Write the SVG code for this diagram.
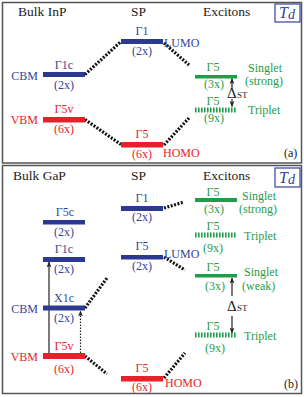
<svg xmlns="http://www.w3.org/2000/svg" width="304" height="397" viewBox="0 0 304 397" font-family="'Liberation Serif', 'Times New Roman', serif">
<defs>
<style>
text{font-family:'Liberation Serif','Times New Roman',serif;font-size:12px}
.h{font-size:13.5px;fill:#222}
.b{fill:#34449a}
.r{fill:#e8222b}
.g{fill:#1f9e4a}
.k{fill:#222}
.c{text-anchor:middle}
.e{text-anchor:end}
.bb{fill:#2b3990}
.rb{fill:#e8202a}
.gb{fill:#1f9e4a}
.frame{fill:none;stroke:#555;stroke-width:1.5}
.td{fill:#fff;stroke:#34449a;stroke-width:1.2}
.tdt{font-style:italic;font-size:16px;fill:#34449a}
.dot{stroke:#111;stroke-width:3.2;stroke-dasharray:2 1.5;fill:none}
.trip{stroke:#1f9e4a;stroke-width:5;stroke-dasharray:1.6 1.4;fill:none}
.ar{stroke:#222;stroke-width:1.2;fill:none}
.ard{stroke:#222;stroke-width:1.2;stroke-dasharray:1.5 1.5;fill:none}
.dl{font-size:15px;fill:#222}
.st{font-size:9px;fill:#222}
</style>
<marker id="ah" viewBox="0 0 10 10" refX="9" refY="5" markerWidth="6" markerHeight="6" orient="auto" markerUnits="userSpaceOnUse">
<path d="M0,1 L10,5 L0,9 L2.5,5 Z" fill="#222"/>
</marker>
</defs>
<rect x="0" y="0" width="304" height="397" fill="#fff"/>

<g id="panel-a">
<rect class="frame" x="2.5" y="2.5" width="299" height="160.5"/>
<text class="h" x="18" y="16">Bulk InP</text>
<text class="h" x="131" y="16">SP</text>
<text class="h" x="203" y="16">Excitons</text>
<g id="td-a"><rect class="td" x="275" y="4" width="25" height="18"/><text class="tdt" x="279" y="18">T<tspan font-size="14" dy="1">d</tspan></text></g>
<text class="k" x="284" y="157">(a)</text>
</g>

<g id="connectors">
<line class="dot" x1="85" y1="74.5" x2="121" y2="41.5"/>
<line class="dot" x1="85" y1="119.5" x2="121" y2="144.5"/>
<line class="dot" x1="164" y1="43" x2="189" y2="65"/>
<line class="dot" x1="164" y1="145" x2="189" y2="118"/>
<line class="dot" x1="85" y1="308" x2="107" y2="278"/>
<line class="dot" x1="85" y1="356" x2="107" y2="374"/>
<line class="dot" x1="164" y1="208" x2="184" y2="202"/>
<line class="dot" x1="164" y1="257" x2="185" y2="270"/>
<line class="dot" x1="164" y1="378" x2="185" y2="353"/>
<line class="ar" x1="49" y1="353" x2="49" y2="262" marker-end="url(#ah)"/>
<line class="ard" x1="80.5" y1="353" x2="80.5" y2="311" marker-end="url(#ah)"/>
<line class="ar" x1="232" y1="88" x2="232" y2="78.5" marker-end="url(#ah)"/>
<line class="ar" x1="232" y1="99" x2="232" y2="106.5" marker-end="url(#ah)"/>
<line class="ar" x1="232" y1="296" x2="232" y2="278" marker-end="url(#ah)"/>
<line class="ar" x1="232" y1="316" x2="232" y2="333" marker-end="url(#ah)"/>
</g>

<g id="a-inp-cbm"><rect class="bb" x="43" y="72" width="42" height="5"/><text class="b c" x="64" y="69">Γ1c</text><text class="b c" x="64" y="89">(2x)</text><text class="b e" x="38" y="80">CBM</text></g>
<g id="a-inp-vbm"><rect class="rb" x="43" y="117" width="42" height="5.5"/><text class="r c" x="64" y="113">Γ5v</text><text class="r c" x="64" y="133">(6x)</text><text class="r e" x="38" y="124">VBM</text></g>
<g id="a-sp-lumo"><rect class="bb" x="121" y="39" width="42" height="5"/><text class="b c" x="142" y="35">Γ1</text><text class="b c" x="142" y="55">(2x)</text><text class="b" x="164" y="47">LUMO</text></g>
<g id="a-sp-homo"><rect class="rb" x="121" y="142" width="42" height="5.5"/><text class="r c" x="142" y="138">Γ5</text><text class="r c" x="142" y="158">(6x)</text><text class="r" x="163" y="157">HOMO</text></g>
<g id="a-singlet"><rect class="gb" x="195" y="75" width="42" height="3.5"/><text class="g c" x="213" y="71">Γ5</text><text class="g c" x="214" y="88">(3x)</text><text class="g" x="248" y="72">Singlet</text><text class="g" x="245" y="85">(strong)</text></g>
<g id="a-triplet"><line class="trip" x1="195" y1="110" x2="237" y2="110"/><text class="g c" x="213" y="105">Γ5</text><text class="g c" x="214" y="122">(9x)</text><text class="g" x="248" y="114">Triplet</text></g>
<g id="a-dst"><text class="dl" x="227" y="98">Δ</text><text class="st" x="237" y="98">ST</text></g>

<g id="panel-b">
<rect class="frame" x="2.5" y="165.5" width="299" height="228"/>
<text class="h" x="13" y="180">Bulk GaP</text>
<text class="h" x="131" y="180">SP</text>
<text class="h" x="203" y="180">Excitons</text>
<g id="td-b"><rect class="td" x="275" y="168" width="25" height="19"/><text class="tdt" x="279" y="182.5">T<tspan font-size="14" dy="1">d</tspan></text></g>
<text class="k" x="284" y="388">(b)</text>
</g>

<g id="b-gap-g5c"><rect class="bb" x="43" y="220" width="42" height="4.5"/><text class="b c" x="65" y="216">Γ5c</text><text class="b c" x="64" y="236">(2x)</text></g>
<g id="b-gap-g1c"><rect class="bb" x="43" y="257" width="42" height="5"/><text class="b c" x="64" y="253">Γ1c</text><text class="b c" x="64" y="273">(2x)</text></g>
<g id="b-gap-x1c"><rect class="bb" x="43" y="305.5" width="42" height="5"/><text class="b c" x="64" y="302">X1c</text><text class="b c" x="64" y="322">(2x)</text><text class="b e" x="38" y="313">CBM</text></g>
<g id="b-gap-g5v"><rect class="rb" x="43" y="353" width="42" height="6"/><text class="r c" x="64" y="350">Γ5v</text><text class="r c" x="64" y="373">(6x)</text><text class="r e" x="38" y="361">VBM</text></g>
<g id="b-sp-g1"><rect class="bb" x="121" y="206" width="42" height="5"/><text class="b c" x="142" y="202">Γ1</text><text class="b c" x="142" y="221">(2x)</text></g>
<g id="b-sp-lumo"><rect class="bb" x="121" y="255" width="42" height="4.5"/><text class="b c" x="142" y="250">Γ5</text><text class="b c" x="142" y="270">(2x)</text><text class="b" x="164" y="258">LUMO</text></g>
<g id="b-sp-homo"><rect class="rb" x="121" y="376" width="42" height="5.5"/><text class="r c" x="142" y="372">Γ5</text><text class="r c" x="142" y="391">(6x)</text><text class="r" x="165" y="387">HOMO</text></g>
<g id="b-singlet-strong"><rect class="gb" x="195" y="198" width="42" height="4"/><text class="g c" x="213" y="196">Γ5</text><text class="g c" x="214" y="213">(3x)</text><text class="g" x="242" y="200">Singlet</text><text class="g" x="239" y="213">(strong)</text></g>
<g id="b-triplet-1"><line class="trip" x1="195" y1="235" x2="237" y2="235"/><text class="g c" x="213" y="230">Γ5</text><text class="g c" x="213" y="252">(9x)</text><text class="g" x="244" y="240">Triplet</text></g>
<g id="b-singlet-weak"><rect class="gb" x="195" y="274" width="42" height="3.5"/><text class="g c" x="213" y="271">Γ5</text><text class="g c" x="215" y="290">(3x)</text><text class="g" x="244" y="276">Singlet</text><text class="g" x="242" y="290">(weak)</text></g>
<g id="b-dst"><text class="dl" x="227" y="311">Δ</text><text class="st" x="237" y="311">ST</text></g>
<g id="b-triplet-2"><line class="trip" x1="195" y1="335" x2="237" y2="335"/><text class="g c" x="213" y="330">Γ5</text><text class="g c" x="215" y="352">(9x)</text><text class="g" x="244" y="340">Triplet</text></g>
</svg>
